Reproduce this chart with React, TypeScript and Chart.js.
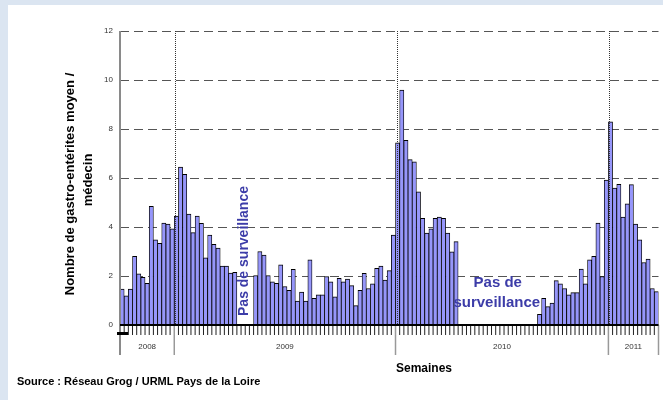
import React, { useEffect, useRef } from "react";
import { Chart, registerables } from "chart.js";

Chart.register(...registerables);

// ---------- DATA ----------
const years: string[] = ["2008", "2009", "2010", "2011"];
const weeksPerYear: number[] = [13, 53, 51, 12];
const firstWeekOfYear: number[] = [40, 1, 1, 1];

const gastroValues: (number | null)[] = [
  // 2008 S40-S52
  1.47, 1.19, 1.47, 2.8, 2.09, 1.95, 1.7, 4.84, 3.48, 3.33, 4.16, 4.12, 3.93,
  // 2009
  4.45, 6.45, 6.15, 4.53, 3.77, 4.45, 4.15, 2.74, 3.67, 3.29, 3.14, 2.4, 2.4, 2.12, 2.15,
  null, null, null, null,
  2.02, 3.0, 2.85, 2.02, 1.76, 1.7, 2.46, 1.57, 1.42, 2.27, 0.98, 1.34, 0.98, 2.66, 1.09,
  1.23, 1.23, 1.98, 1.76, 1.15, 1.91, 1.76, 1.87, 1.61, 0.79, 1.42, 2.11, 1.49, 1.68, 2.31,
  2.4, 1.83, 2.22, 3.67,
  // 2010
  7.44, 9.59, 7.54, 6.75, 6.66, 5.44, 4.35, 3.75, 3.93, 4.35, 4.41, 4.35, 3.75, 2.99, 3.4,
  null, null, null, null, null, null, null, null, null, null, null, null, null, null, null,
  null, null, null, null,
  0.44, 1.09, 0.75, 0.89, 1.81, 1.68, 1.49, 1.23, 1.32, 1.32, 2.28, 1.68, 2.66, 2.8, 4.16,
  1.98, 5.92,
  // 2011
  8.29, 5.59, 5.74, 4.41, 4.95, 5.73, 4.12, 3.48, 2.55, 2.69, 1.49, 1.36,
];

const yTickMin = 0;
const yTickMax = 12;
const yTickStep = 2;

const yTitleLines: string[] = ["Nombre de gastro-entérites moyen /", "médecin"];
const xTitle = "Semaines";
const sourceText = "Source : Réseau Grog / URML Pays de la Loire";
const gapNoteVertical = "Pas de surveillance";
const gapNoteLines: string[] = ["Pas de", "surveillance"];
// gaps (first and last missing index)
const gap1: [number, number] = [28, 31];
const gap2: [number, number] = [81, 99];

// labels
const weekLabels: string[] = [];
years.forEach((yr, k) => {
  for (let w = 0; w < weeksPerYear[k]; w++) {
    weekLabels.push(`${yr}-S${firstWeekOfYear[k] + w}`);
  }
});
const yearStarts: number[] = [];
{
  let acc = 0;
  weeksPerYear.forEach((n) => {
    yearStarts.push(acc);
    acc += n;
  });
}

const FONT = '"Liberation Sans", Arial, Helvetica, sans-serif';

const decorPlugin = {
  id: "decor",
  beforeDraw(chart: any) {
    const ctx = chart.ctx;
    ctx.save();
    ctx.fillStyle = "#dbe5f1";
    ctx.fillRect(0, 0, chart.width, chart.height);
    ctx.fillStyle = "#ffffff";
    ctx.fillRect(8, 5, chart.width - 8, chart.height - 5);
    ctx.restore();
  },
  beforeDatasetsDraw(chart: any) {
    const { ctx, chartArea, scales } = chart;
    const y = scales.y;
    ctx.save();
    ctx.strokeStyle = "#555555";
    ctx.lineWidth = 1;
    ctx.setLineDash([9, 5]);
    for (const t of y.ticks) {
      if (t.value === 0) continue;
      const py = Math.round(y.getPixelForValue(t.value)) + 0.5;
      ctx.beginPath();
      ctx.moveTo(chartArea.left, py);
      ctx.lineTo(chartArea.right, py);
      ctx.stroke();
    }
    ctx.restore();
  },
  afterDatasetsDraw(chart: any) {
    const { ctx, chartArea, scales } = chart;
    const x = scales.x;
    const y = scales.y;
    const n = weekLabels.length;
    const catW = x.getPixelForValue(1) - x.getPixelForValue(0);
    const edge = (i: number) => x.getPixelForValue(0) - catW / 2 + i * catW;
    const base = y.getPixelForValue(0);
    const top = y.getPixelForValue(yTickMax);

    ctx.save();
    // dotted year lines
    ctx.strokeStyle = "#333333";
    ctx.lineWidth = 1;
    ctx.setLineDash([1, 1]);
    yearStarts.slice(1).forEach((s) => {
      const px = Math.round(edge(s) + 1) + 0.5;
      ctx.beginPath();
      ctx.moveTo(px, top);
      ctx.lineTo(px, base);
      ctx.stroke();
    });
    ctx.setLineDash([]);

    // week ticks
    ctx.strokeStyle = "#222222";
    ctx.lineWidth = 1;
    for (let i = 1; i < n; i++) {
      if (yearStarts.includes(i)) continue;
      const px = edge(i);
      ctx.beginPath();
      ctx.moveTo(px, base);
      ctx.lineTo(px, base + 10);
      ctx.stroke();
    }

    // year separators
    ctx.strokeStyle = "#999999";
    ctx.lineWidth = 1.5;
    const seps = [...yearStarts, n];
    seps.forEach((s) => {
      const px = edge(s);
      ctx.beginPath();
      ctx.moveTo(px, base);
      ctx.lineTo(px, base + 30);
      ctx.stroke();
    });

    // y axis line
    ctx.strokeStyle = "#8a8a8a";
    ctx.lineWidth = 2;
    ctx.beginPath();
    ctx.moveTo(chartArea.left, top);
    ctx.lineTo(chartArea.left, base + 30);
    ctx.stroke();

    // baseline
    ctx.strokeStyle = "#000000";
    ctx.lineWidth = 2;
    ctx.beginPath();
    ctx.moveTo(chartArea.left, base);
    ctx.lineTo(chartArea.right, base);
    ctx.stroke();

    // small mark
    ctx.fillStyle = "#000000";
    ctx.fillRect(chartArea.left - 3, base + 7, 11, 3);

    // year labels
    ctx.fillStyle = "#333333";
    ctx.font = `8px ${FONT}`;
    ctx.textAlign = "center";
    ctx.textBaseline = "middle";
    years.forEach((yr, k) => {
      const a = edge(seps[k]);
      const b = edge(seps[k + 1]);
      ctx.fillText(yr, (a + b) / 2, base + 22);
    });

    // gap notes
    ctx.fillStyle = "#3c3ca8";
    ctx.font = `bold 14px ${FONT}`;
    const g1x = edge((gap1[0] + gap1[1] + 1) / 2);
    ctx.save();
    ctx.translate(g1x - 1, base - 74);
    ctx.rotate(-Math.PI / 2);
    ctx.textAlign = "center";
    ctx.textBaseline = "middle";
    ctx.fillText(gapNoteVertical, 0, 0);
    ctx.restore();

    const g2x = edge((gap2[0] + gap2[1] + 1) / 2);
    ctx.font = `bold 15px ${FONT}`;
    ctx.textAlign = "center";
    ctx.textBaseline = "middle";
    ctx.fillText(gapNoteLines[0], g2x, base - 42);
    ctx.fillText(gapNoteLines[1], g2x - 1, base - 22);

    // y title
    ctx.fillStyle = "#000000";
    ctx.font = `bold 13px ${FONT}`;
    ctx.save();
    ctx.translate(70, 184);
    ctx.rotate(-Math.PI / 2);
    ctx.textAlign = "center";
    ctx.textBaseline = "middle";
    ctx.fillText(yTitleLines[0], 0, 0);
    ctx.fillText(yTitleLines[1], 4, 18);
    ctx.restore();

    // x title
    ctx.font = `bold 12px ${FONT}`;
    ctx.textAlign = "center";
    ctx.textBaseline = "middle";
    ctx.fillText(xTitle, 424, 369);

    // source
    ctx.font = `bold 11px ${FONT}`;
    ctx.textAlign = "left";
    ctx.fillText(sourceText, 17, 382);
    ctx.restore();
  },
};

export default function App() {
  const ref = useRef<HTMLCanvasElement | null>(null);
  useEffect(() => {
    if (!ref.current) return;
    const chart = new Chart(ref.current, {
      type: "bar",
      data: {
        labels: weekLabels,
        datasets: [
          {
            data: gastroValues,
            backgroundColor: "#9696fa",
            borderColor: "#000000",
            borderWidth: { top: 1, right: 0.8, bottom: 0, left: 0.8 },
            borderSkipped: false,
            barPercentage: 1,
            categoryPercentage: 1,
          },
        ],
      },
      options: {
        responsive: false,
        animation: false,
        maintainAspectRatio: false,
        layout: { padding: { top: 31, right: 4.5, bottom: 75, left: 0 } },
        plugins: { legend: { display: false }, tooltip: { enabled: false }, title: { display: false } },
        scales: {
          x: {
            display: false,
            grid: { display: false },
          },
          y: {
            min: yTickMin,
            max: yTickMax,
            afterFit: (s: any) => {
              s.width = 120;
            },
            ticks: {
              stepSize: yTickStep,
              padding: 7,
              color: "#333333",
              font: { size: 8, family: FONT },
            },
            grid: { display: false, drawTicks: false },
            border: { display: false },
          },
        },
      },
      plugins: [decorPlugin],
    });
    return () => chart.destroy();
  }, []);
  return (
    <div style={{ position: "fixed", left: 0, top: 0, width: 663, height: 400 }}>
      <canvas ref={ref} width={663} height={400} style={{ width: 663, height: 400, display: "block" }} />
    </div>
  );
}
